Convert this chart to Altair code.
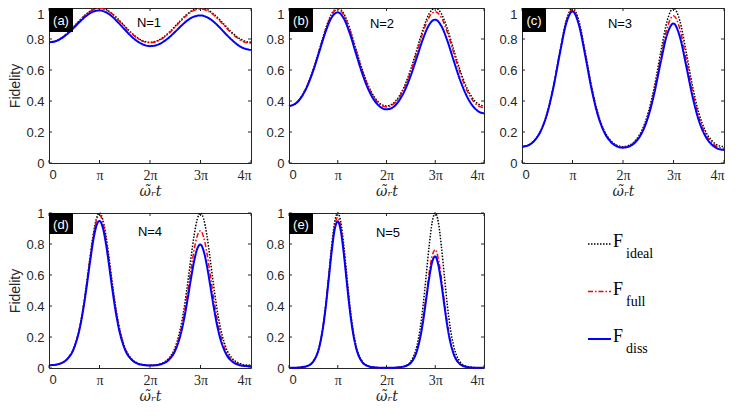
import altair as alt

# sample positions, in units of pi
U33 = [0, 0.125, 0.25, 0.375, 0.5, 0.625, 0.75, 0.875, 1, 1.125, 1.25, 1.375, 1.5, 1.625, 1.75, 1.875,
       2, 2.125, 2.25, 2.375, 2.5, 2.625, 2.75, 2.875, 3, 3.125, 3.25, 3.375, 3.5, 3.625, 3.75, 3.875, 4]
U45 = [0, 0.125, 0.25, 0.375, 0.5, 0.625, 0.6875, 0.75, 0.8125, 0.875, 0.9375, 1, 1.0625, 1.125, 1.1875,
       1.25, 1.3125, 1.375, 1.5, 1.625, 1.75, 1.875, 2, 2.125, 2.25, 2.375, 2.5, 2.625, 2.6875, 2.75,
       2.8125, 2.875, 2.9375, 3, 3.0625, 3.125, 3.1875, 3.25, 3.3125, 3.375, 3.5, 3.625, 3.75, 3.875, 4]

N1_IDEAL = [0.779, 0.786, 0.808, 0.841, 0.883, 0.926, 0.964, 0.991, 1.000, 0.991, 0.964, 0.926, 0.883, 0.841, 0.808, 0.786,
            0.779, 0.786, 0.808, 0.841, 0.883, 0.926, 0.964, 0.991, 1.000, 0.991, 0.964, 0.926, 0.883, 0.841, 0.808, 0.786, 0.779]
N1_FULL = [0.779, 0.786, 0.807, 0.841, 0.882, 0.925, 0.963, 0.989, 0.998, 0.988, 0.962, 0.923, 0.880, 0.839, 0.805, 0.783,
           0.776, 0.783, 0.804, 0.837, 0.878, 0.921, 0.959, 0.985, 0.994, 0.984, 0.958, 0.919, 0.876, 0.835, 0.802, 0.780, 0.773]
N1_DISS = [0.779, 0.785, 0.805, 0.836, 0.875, 0.916, 0.952, 0.977, 0.984, 0.973, 0.945, 0.905, 0.861, 0.819, 0.785, 0.763,
           0.754, 0.760, 0.779, 0.809, 0.847, 0.887, 0.922, 0.945, 0.952, 0.941, 0.914, 0.876, 0.833, 0.793, 0.759, 0.738, 0.729]

N2_IDEAL = [0.368, 0.382, 0.426, 0.501, 0.607, 0.734, 0.864, 0.963, 1.000, 0.963, 0.864, 0.734, 0.607, 0.501, 0.426, 0.382,
            0.368, 0.382, 0.426, 0.501, 0.607, 0.734, 0.864, 0.963, 1.000, 0.963, 0.864, 0.734, 0.607, 0.501, 0.426, 0.382, 0.368]
N2_FULL = [0.368, 0.382, 0.425, 0.499, 0.604, 0.731, 0.859, 0.956, 0.992, 0.954, 0.855, 0.726, 0.599, 0.494, 0.420, 0.376,
           0.362, 0.376, 0.418, 0.491, 0.594, 0.719, 0.845, 0.941, 0.976, 0.939, 0.841, 0.715, 0.590, 0.486, 0.413, 0.370, 0.356]
N2_DISS = [0.368, 0.381, 0.423, 0.496, 0.598, 0.722, 0.846, 0.939, 0.972, 0.932, 0.833, 0.705, 0.580, 0.477, 0.404, 0.361,
           0.346, 0.358, 0.399, 0.468, 0.566, 0.683, 0.802, 0.892, 0.925, 0.884, 0.787, 0.664, 0.544, 0.446, 0.376, 0.335, 0.320]

N3_IDEAL = [0.105, 0.115, 0.147, 0.211, 0.325, 0.499, 0.719, 0.918, 1.000, 0.918, 0.719, 0.499, 0.325, 0.211, 0.147, 0.115,
            0.105, 0.115, 0.147, 0.211, 0.325, 0.499, 0.719, 0.918, 1.000, 0.918, 0.719, 0.499, 0.325, 0.211, 0.147, 0.115, 0.105]
N3_FULL = [0.105, 0.115, 0.146, 0.210, 0.323, 0.496, 0.714, 0.910, 0.990, 0.905, 0.707, 0.489, 0.317, 0.205, 0.142, 0.111,
           0.101, 0.110, 0.140, 0.202, 0.310, 0.476, 0.685, 0.873, 0.950, 0.866, 0.674, 0.465, 0.300, 0.194, 0.134, 0.104, 0.095]
N3_DISS = [0.105, 0.114, 0.146, 0.209, 0.321, 0.492, 0.707, 0.900, 0.978, 0.893, 0.697, 0.481, 0.311, 0.201, 0.139, 0.108,
           0.099, 0.107, 0.136, 0.195, 0.299, 0.457, 0.655, 0.831, 0.900, 0.815, 0.629, 0.431, 0.276, 0.177, 0.121, 0.093, 0.084]

N4_IDEAL = [0.018, 0.021, 0.033, 0.063, 0.135, 0.291, 0.411, 0.557, 0.714, 0.859, 0.962, 1.000, 0.962, 0.859, 0.714, 0.557,
            0.411, 0.291, 0.135, 0.063, 0.033, 0.021, 0.018, 0.021, 0.033, 0.063, 0.135, 0.291, 0.411, 0.557, 0.714, 0.859,
            0.962, 1.000, 0.962, 0.859, 0.714, 0.557, 0.411, 0.291, 0.135, 0.063, 0.033, 0.021, 0.018]
N4_FULL = [0.018, 0.021, 0.033, 0.063, 0.134, 0.288, 0.407, 0.550, 0.705, 0.848, 0.949, 0.985, 0.945, 0.840, 0.696, 0.541,
           0.398, 0.281, 0.130, 0.060, 0.031, 0.020, 0.017, 0.020, 0.030, 0.058, 0.123, 0.262, 0.370, 0.499, 0.638, 0.765,
           0.854, 0.885, 0.844, 0.746, 0.614, 0.474, 0.346, 0.243, 0.111, 0.050, 0.026, 0.016, 0.014]
N4_DISS = [0.018, 0.021, 0.032, 0.062, 0.132, 0.282, 0.397, 0.535, 0.684, 0.820, 0.916, 0.949, 0.909, 0.807, 0.667, 0.517,
           0.380, 0.267, 0.123, 0.057, 0.029, 0.019, 0.016, 0.018, 0.028, 0.053, 0.113, 0.240, 0.337, 0.454, 0.579, 0.692,
           0.771, 0.797, 0.755, 0.663, 0.543, 0.416, 0.302, 0.210, 0.095, 0.042, 0.021, 0.013, 0.011]

N5_IDEAL = [0.002, 0.002, 0.005, 0.013, 0.044, 0.145, 0.249, 0.400, 0.591, 0.788, 0.942, 1.000, 0.942, 0.788, 0.591, 0.400,
            0.249, 0.145, 0.044, 0.013, 0.005, 0.002, 0.002, 0.002, 0.005, 0.013, 0.044, 0.145, 0.249, 0.400, 0.591, 0.788,
            0.942, 1.000, 0.942, 0.788, 0.591, 0.400, 0.249, 0.145, 0.044, 0.013, 0.005, 0.002, 0.002]
N5_FULL = [0.002, 0.002, 0.005, 0.013, 0.043, 0.143, 0.245, 0.392, 0.577, 0.769, 0.917, 0.972, 0.909, 0.756, 0.563, 0.379,
           0.234, 0.136, 0.040, 0.012, 0.004, 0.002, 0.002, 0.002, 0.004, 0.011, 0.036, 0.117, 0.199, 0.316, 0.462, 0.612,
           0.725, 0.763, 0.706, 0.581, 0.427, 0.284, 0.174, 0.099, 0.029, 0.008, 0.003, 0.001, 0.001]
N5_DISS = [0.002, 0.002, 0.005, 0.013, 0.043, 0.140, 0.240, 0.384, 0.565, 0.751, 0.894, 0.946, 0.885, 0.735, 0.547, 0.368,
           0.228, 0.132, 0.039, 0.012, 0.004, 0.002, 0.002, 0.002, 0.004, 0.011, 0.034, 0.111, 0.189, 0.300, 0.439, 0.579,
           0.685, 0.720, 0.665, 0.546, 0.401, 0.266, 0.162, 0.093, 0.027, 0.008, 0.003, 0.001, 0.001]

X_TICKS = [0, 1, 2, 3, 4]
Y_TICKS = [0, 0.2, 0.4, 0.6, 0.8, 1]
SERIES = ["ideal", "full", "diss"]
COLORS = {"ideal": "#000000", "full": "#FF0000", "diss": "#0000FF"}
DASHES = {"ideal": [1.5, 1.5], "full": [5, 2, 1.5, 2], "diss": [1, 0]}
WIDTHS = {"ideal": 1.5, "full": 1.5, "diss": 2}

AX = "#262626"
SANS = "Liberation Sans"
SERIF = "Liberation Serif"


def panel(u, ideal, full, diss, label, ntext, w, h, ytitle, top_row, nx, ny, box_h):
    rows = []
    for s, arr in zip(SERIES, (ideal, full, diss)):
        rows += [{"u": a, "F": b, "series": s} for a, b in zip(u, arr)]
    base = alt.Chart(alt.Data(values=rows))

    xaxis = alt.Axis(
        values=X_TICKS,
        labelExpr="datum.value == 0 ? '0' : (datum.value == 1 ? 'π' : datum.value + 'π')",
        labelFont={"condition": {"test": "datum.value == 0", "value": SANS}, "value": SERIF},
        labelFontSize={"condition": {"test": "datum.value == 0", "value": 13}, "value": 14},
        labelPadding=5,
        labelOverlap=False,
        title="ω̃ᵣt",
        titleFont="DejaVu Serif",
        titleFontStyle="italic",
        titleFontSize=14,
        titlePadding=2,
    )
    yargs = dict(values=Y_TICKS, format="~g", labelPadding=5, titlePadding=3, labelOverlap=False)
    if top_row:
        yargs["labelBaseline"] = {"condition": {"test": "datum.value == 1", "value": "top"}, "value": "middle"}
    if ytitle:
        yargs["title"] = "Fidelity"
    else:
        yargs["title"] = None
    yaxis = alt.Axis(**yargs)

    scx = alt.Scale(domain=[0, 4], nice=False, zero=False)
    scy = alt.Scale(domain=[0, 1], nice=False)
    xenc = alt.X("u:Q", scale=scx, axis=xaxis)
    yenc = alt.Y("F:Q", scale=scy, axis=yaxis)

    layers = []
    for s in SERIES:
        layers.append(
            base.transform_filter(alt.datum.series == s)
            .mark_line(color=COLORS[s], strokeDash=DASHES[s], strokeWidth=WIDTHS[s], interpolate="monotone")
            .encode(x=xenc, y=yenc)
        )

    xt = alt.Chart(alt.Data(values=[{"u": v} for v in X_TICKS]))
    yt = alt.Chart(alt.Data(values=[{"F": v} for v in Y_TICKS]))
    layers.append(xt.mark_rule(color=AX, strokeWidth=1).encode(x=xenc, y=alt.value(h), y2=alt.value(h - 3)))
    layers.append(xt.mark_rule(color=AX, strokeWidth=1).encode(x=xenc, y=alt.value(0), y2=alt.value(3)))
    layers.append(yt.mark_rule(color=AX, strokeWidth=1).encode(y=yenc, x=alt.value(0), x2=alt.value(3)))
    layers.append(yt.mark_rule(color=AX, strokeWidth=1).encode(y=yenc, x=alt.value(w), x2=alt.value(w - 3)))

    lab = alt.Chart(alt.Data(values=[{"t": label, "n": ntext}]))
    layers.append(lab.mark_rect(color="black").encode(
        x=alt.value(0), x2=alt.value(24), y=alt.value(0), y2=alt.value(box_h)))
    layers.append(lab.mark_text(color="white", font=SANS, fontSize=13, align="center", baseline="middle").encode(
        x=alt.value(12), y=alt.value(box_h / 2 + 1), text="t:N"))
    layers.append(lab.mark_text(color="black", font=SANS, fontSize=13, align="center", baseline="middle").encode(
        x=alt.value(nx), y=alt.value(ny), text="n:N"))

    return alt.layer(*layers).properties(width=w, height=h)


H = 155
pa = panel(U33, N1_IDEAL, N1_FULL, N1_DISS, "(a)", "N=1", 202, H, True, True, 100, 15, 24)
pb = panel(U33, N2_IDEAL, N2_FULL, N2_DISS, "(b)", "N=2", 195, H, False, True, 93, 16, 24)
pc = panel(U33, N3_IDEAL, N3_FULL, N3_DISS, "(c)", "N=3", 202, H, False, True, 98, 16, 24)
pd = panel(U45, N4_IDEAL, N4_FULL, N4_DISS, "(d)", "N=4", 202, H, True, False, 101, 19, 21)
pe = panel(U45, N5_IDEAL, N5_FULL, N5_DISS, "(e)", "N=5", 195, H, False, False, 99, 20, 21)

# legend panel (rows 0, 1, 2 top to bottom)
LEG_ROWS = [0, 1, 2]
leg_base = alt.Chart(alt.Data(values=[{"s": s, "k": k} for s, k in zip(SERIES, LEG_ROWS)]))
ly = alt.Y("k:Q", scale=alt.Scale(domain=[0, 2], range=[31, 126], nice=False, zero=False), axis=None)
leg_layers = []
for s in SERIES:
    leg_layers.append(
        leg_base.transform_filter(alt.datum.s == s)
        .mark_rule(color=COLORS[s], strokeDash=DASHES[s], strokeWidth=WIDTHS[s])
        .encode(y=ly, x=alt.value(66), x2=alt.value(89))
    )
leg_layers.append(leg_base.mark_text(text="F", font=SERIF, fontSize=18, align="left", baseline="alphabetic",
                                     dy=3, color="black").encode(y=ly, x=alt.value(91)))
leg_layers.append(leg_base.mark_text(font=SERIF, fontSize=14, align="left", baseline="alphabetic",
                                     dy=14, color="black").encode(y=ly, x=alt.value(104), text="s:N"))
legend = alt.layer(*leg_layers).properties(width=202, height=H, view=alt.ViewBackground(stroke="transparent"))

chart = alt.concat(pa, pb, pc, pd, pe, legend, columns=3, spacing={"row": 50, "column": 38}, bounds="flush").properties(
    padding={"left": 0, "top": -4, "right": 5, "bottom": 2}
).configure_view(stroke=AX, strokeWidth=1).configure_axis(
    domain=False, ticks=False, grid=False, labelColor=AX, labelFont=SANS, labelFontSize=13,
    labelOverlap=False, titleColor=AX, titleFont=SANS, titleFontSize=14, titleFontWeight="normal"
)

chart.save("out.html", embed_options={"renderer": "svg", "actions": False})
